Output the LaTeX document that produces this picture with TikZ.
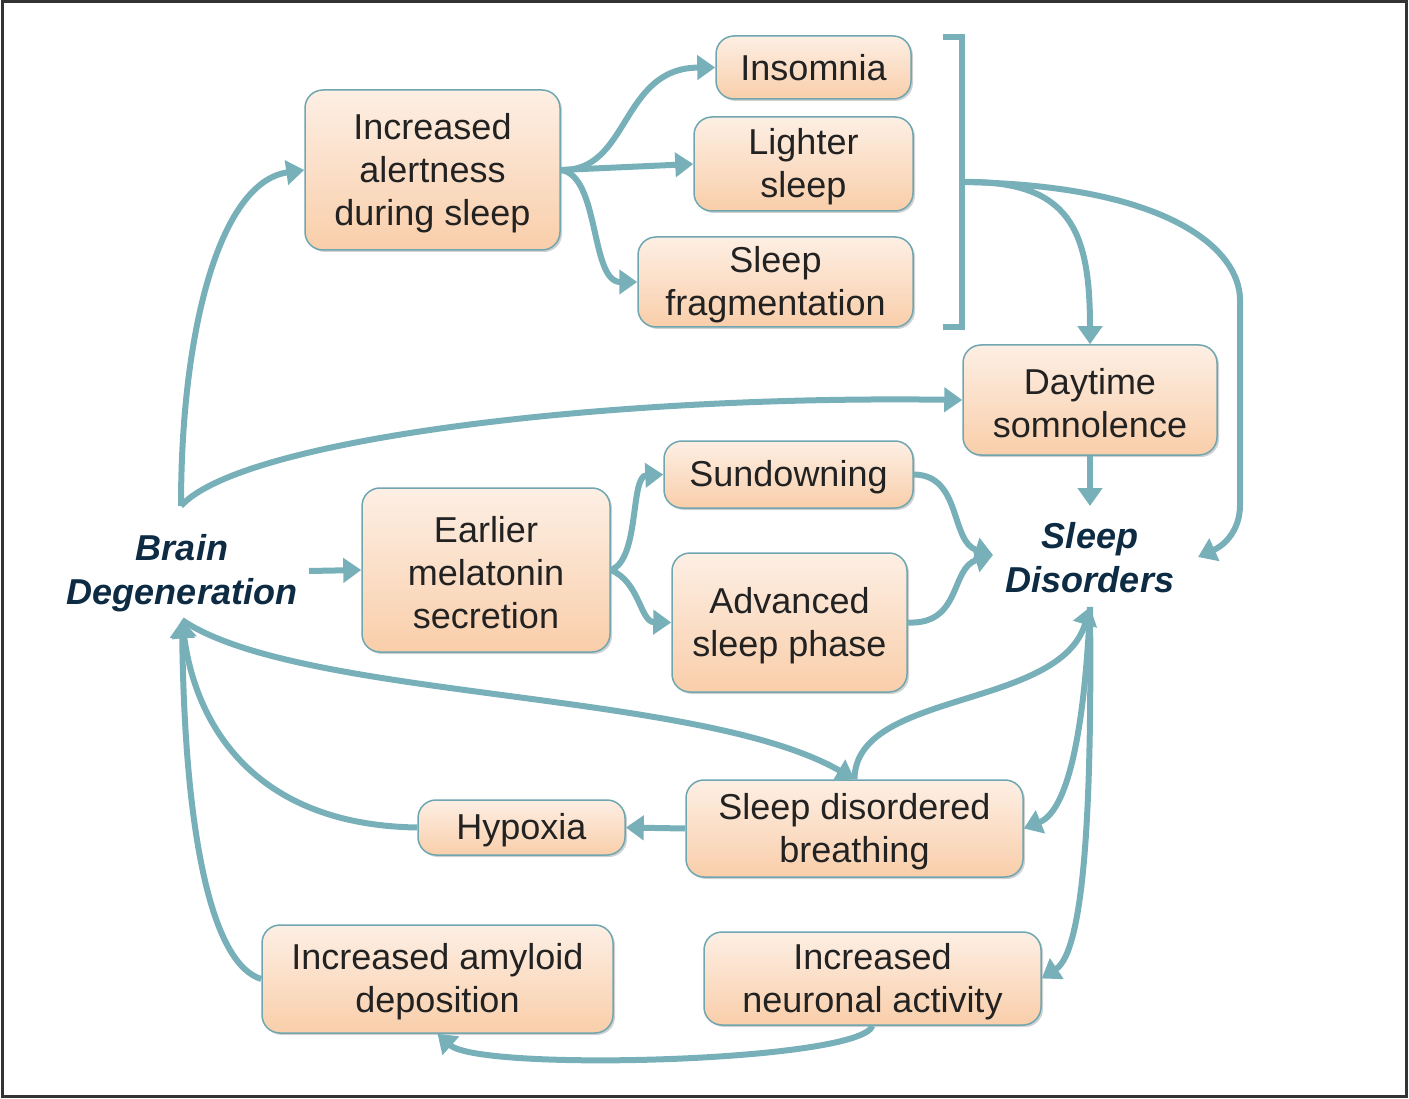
\documentclass[tikz,border=0pt]{standalone}
\usepackage{fontspec}
\setmainfont{Liberation Sans}
\usetikzlibrary{arrows.meta,shadows}
\definecolor{arr}{HTML}{78B0B9}
\definecolor{bord}{HTML}{6FA6B0}
\definecolor{topc}{HTML}{FDEFE4}
\definecolor{botc}{HTML}{F9CEAA}
\definecolor{txt}{HTML}{222222}
\definecolor{navy}{HTML}{0E2B44}
\definecolor{frame}{HTML}{333333}
\begin{document}
\begin{tikzpicture}[x=1pt,y=-1pt,
 box/.style={draw=bord,line width=1.5pt,rounded corners=18pt,top color=topc,bottom color=botc,
   inner sep=0pt,
   drop shadow={shadow xshift=2pt,shadow yshift=-2pt,opacity=0.18,fill=black}},
 lab/.style={align=center,inner sep=0pt,text=txt,font=\fontsize{36}{43}\selectfont,yshift=-3pt},
 big/.style={align=center,text=navy,inner sep=0pt,font=\fontsize{36}{44}\selectfont\bfseries\itshape},
 con/.style={draw=arr,line width=6pt,-{Triangle[length=18pt,width=24pt]}},
 plain/.style={draw=arr,line width=6pt}]
\useasboundingbox (0,0) rectangle (1409,1099);
\draw[frame,line width=3pt] (2,2) rectangle (1406,1096);

% nodes
\node[box,minimum width=255pt,minimum height=160pt,label={[lab]center:{Increased\\alertness\\during sleep}}] (alert) at (432.5,170) {};
\node[box,minimum width=195pt,minimum height=63pt,label={[lab,yshift=3pt]center:{Insomnia}}] (insom) at (813.5,67.5) {};
\node[box,minimum width=219pt,minimum height=94pt,label={[lab]center:{Lighter\\sleep}}] (light) at (803.5,164) {};
\node[box,minimum width=275pt,minimum height=90pt,label={[lab]center:{Sleep\\fragmentation}}] (frag) at (775.5,282) {};
\node[box,minimum width=254pt,minimum height=110pt,label={[lab]center:{Daytime\\somnolence}}] (day) at (1090,400) {};
\node[big] (brain) at (182,573) {Brain\\Degeneration};
\node[box,minimum width=248pt,minimum height=164pt,label={[lab]center:{Earlier\\melatonin\\secretion}}] (earlier) at (486,570) {};
\node[box,minimum width=249pt,minimum height=67pt,label={[lab]center:{Sundowning}}] (sund) at (788.5,474.5) {};
\node[box,minimum width=235pt,minimum height=139pt,label={[lab]center:{Advanced\\sleep phase}}] (adv) at (789.5,622.5) {};
\node[big] (sd) at (1090,558) {Sleep\\Disorders};
\node[box,minimum width=337pt,minimum height=97pt,label={[lab]center:{Sleep disordered\\breathing}}] (sdb) at (854.5,828.5) {};
\node[box,minimum width=207pt,minimum height=55pt,label={[lab]center:{Hypoxia}}] (hyp) at (521.5,827.5) {};
\node[box,minimum width=351pt,minimum height=108pt,label={[lab]center:{Increased amyloid\\deposition}}] (amy) at (437.5,979) {};
\node[box,minimum width=337pt,minimum height=93pt,label={[lab]center:{Increased\\neuronal activity}}] (neur) at (872.5,978.5) {};

% helper coordinates
\coordinate (btop) at (181,506);
\coordinate (bbot) at (182,620);
\coordinate (bright) at (309,571);
\coordinate (sdtop) at (1090,506);
\coordinate (sdbot) at (1090,607);
\coordinate (sdleft) at (993,555);
\coordinate (sdright) at (1198,557);
\coordinate (brk) at (962,182);

% bracket
\draw[plain,line join=miter] (943,37) -- (962,37) -- (962,327) -- (943,327);

% connectors
\draw[con] (btop) .. controls (181,330) and (220,182) .. (alert.west);
\draw[con] (btop) .. controls (240,440) and (600,395) .. (day.west);
\draw[con] (alert.east) .. controls (630,172) and (620,68) .. (insom.west);
\draw[con] (alert.east) -- (light.west);
\draw[con] (alert.east) .. controls (600,175) and (590,282) .. (frag.west);
\draw[con] (brk) .. controls (1070,180) and (1090,230) .. (day.north);
\draw[con] (brk) .. controls (1170,185) and (1240,250) .. (1240,300) -- (1240,505) .. controls (1240,530) and (1225,545) .. (sdright);
\draw[con] (day.south) -- (sdtop);
\draw[con] (bright) -- (earlier.west);
\draw[con] (earlier.east) .. controls (640,560) and (630,476) .. (sund.west);
\draw[con] (earlier.east) .. controls (640,582) and (640,622) .. (adv.west);
\draw[con] (sund.east) .. controls (962,475) and (950,542) .. (sdleft);
\draw[con] (adv.east) .. controls (962,625) and (950,568) .. (sdleft);
\draw[con] (bbot) .. controls (300,700) and (700,690) .. (sdb.north);
\draw[con] (sdb.north) .. controls (855,690) and (1060,710) .. (sdbot);
\draw[con] (sdbot) .. controls (1085,720) and (1070,810) .. (sdb.east);
\draw[con] (sdbot) .. controls (1092,800) and (1085,950) .. (neur.east);
\draw[con] (sdb.west) -- (hyp.east);
\draw[con] (hyp.west) .. controls (250,825) and (195,720) .. (bbot);
\draw[con] (amy.west) .. controls (215,965) and (185,850) .. (bbot);
\draw[con] (neur.south) .. controls (860,1062) and (480,1072) .. (amy.south);
\end{tikzpicture}
\end{document}
